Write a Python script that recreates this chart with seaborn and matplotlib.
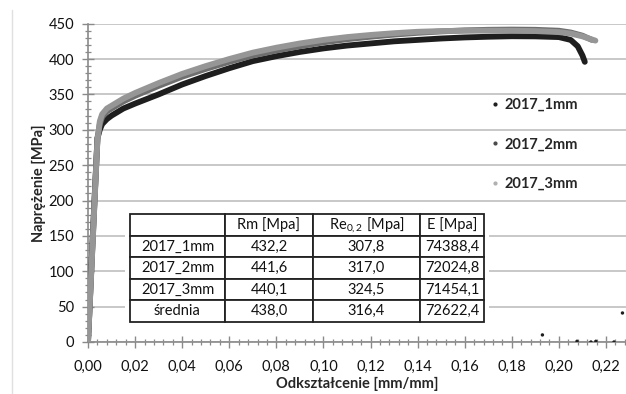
import numpy as np
import pandas as pd
import matplotlib
matplotlib.use("Agg")
import matplotlib.pyplot as plt
from matplotlib.lines import Line2D
from matplotlib.ticker import MultipleLocator, FuncFormatter
import seaborn as sns

# Stress-strain curves (strain [mm/mm], stress [MPa])
strain_1mm = [0.0, 0.002, 0.004, 0.005, 0.006, 0.008, 0.010, 0.015, 0.02, 0.03, 0.04, 0.05,
              0.06, 0.07, 0.08, 0.09, 0.10, 0.11, 0.12, 0.13, 0.14, 0.15, 0.16, 0.17, 0.18,
              0.19, 0.20, 0.205, 0.208, 0.210, 0.211]
stress_1mm = [0, 148, 288, 300, 308, 315, 320, 330, 337, 350, 364, 376,
              387, 397, 404, 410, 415, 419, 422, 425, 427, 429, 430.5, 431.5, 432.2,
              432, 431, 427, 418, 405, 396]

strain_2mm = [0.0, 0.002, 0.004, 0.005, 0.006, 0.008, 0.010, 0.015, 0.02, 0.03, 0.04, 0.05,
              0.06, 0.07, 0.08, 0.09, 0.10, 0.11, 0.12, 0.13, 0.14, 0.15, 0.16, 0.17, 0.18,
              0.19, 0.20, 0.205, 0.210, 0.214]
stress_2mm = [0, 144, 288, 308, 318, 326, 330, 340, 348, 362, 375, 386,
              396, 405, 412, 418, 423.5, 428, 431.5, 434.5, 437, 439, 440.5, 441.3, 441.6,
              441.3, 440, 437.5, 433, 427]

strain_3mm = [0.0, 0.002, 0.004, 0.005, 0.006, 0.008, 0.010, 0.015, 0.02, 0.03, 0.04, 0.05,
              0.06, 0.07, 0.08, 0.09, 0.10, 0.11, 0.12, 0.13, 0.14, 0.15, 0.16, 0.17, 0.18,
              0.19, 0.20, 0.205, 0.210, 0.2155]
stress_3mm = [0, 142, 285, 312, 322, 330, 334, 344, 352, 366, 379, 390,
              400, 409, 416, 422, 427, 431, 434, 436.5, 438.5, 439.5, 440, 440.1, 440,
              439.5, 438, 436, 432, 426]

# Stray readings recorded after fracture
tail_strain = [0.193, 0.2077, 0.2136, 0.2157, 0.2234, 0.2270]
tail_stress = [10, 1, 0, 1, 0, 41]

series_names = ["2017_1mm", "2017_2mm", "2017_3mm"]
series_colors = ["#1e1e1e", "#6e6e6e", "#969696"]
legend_colors = ["#1e1e1e", "#4a4a4a", "#b0b0b0"]

# Summary table
table_header = ["", "Rm [Mpa]", "Re$_{0,2}$ [Mpa]", "E [Mpa]"]
table_rows = ["2017_1mm", "2017_2mm", "2017_3mm", "średnia"]
rm_vals = ["432,2", "441,6", "440,1", "438,0"]
re_vals = ["307,8", "317,0", "324,5", "316,4"]
e_vals = ["74388,4", "72024,8", "71454,1", "72622,4"]

frames = []
for name, xs, ys in zip(series_names,
                        [strain_1mm, strain_2mm, strain_3mm],
                        [stress_1mm, stress_2mm, stress_3mm]):
    frames.append(pd.DataFrame({"strain": xs, "stress": ys, "seria": name}))
df = pd.concat(frames, ignore_index=True)

sns.set_style("white")
plt.rcParams["font.family"] = ["Lato", "DejaVu Sans"]
plt.rcParams["mathtext.fontset"] = "custom"
plt.rcParams["mathtext.rm"] = "Lato"
plt.rcParams["mathtext.it"] = "Lato"

fig = plt.figure(figsize=(6.26, 3.94), dpi=100)
ax = fig.add_axes([0.1406, 0.132, 0.8594, 0.808])

ax.yaxis.grid(True, color="#c4c4c4", linewidth=1.3, zorder=0)
ax.set_axisbelow(True)

sns.lineplot(data=df, x="strain", y="stress", hue="seria", hue_order=series_names,
             palette=dict(zip(series_names, series_colors)), sort=False,
             estimator=None, linewidth=4.2, legend=False, ax=ax,
             solid_capstyle="round", zorder=3)
sns.scatterplot(x=tail_strain, y=tail_stress, color="#1e1e1e", s=6,
                edgecolor="none", ax=ax, zorder=3)

ax.set_xlim(0, 0.2285)
ax.set_ylim(0, 450)
ax.xaxis.set_major_locator(MultipleLocator(0.02))
ax.xaxis.set_minor_locator(MultipleLocator(0.004))
ax.yaxis.set_major_locator(MultipleLocator(50))
ax.yaxis.set_minor_locator(MultipleLocator(10))
ax.xaxis.set_major_formatter(FuncFormatter(lambda v, p: f"{v:.2f}".replace(".", ",")))

for side in ["top", "right"]:
    ax.spines[side].set_visible(False)
for side in ["left", "bottom"]:
    ax.spines[side].set_color("#8a8a8a")
    ax.spines[side].set_linewidth(1.2)

ax.tick_params(which="both", bottom=True, left=True)
ax.tick_params(which="major", direction="inout", length=8, width=1.0, color="#8a8a8a",
               labelsize=10.5, labelcolor="#111111")
ax.tick_params(axis="x", which="major", pad=9)
ax.tick_params(axis="y", which="major", pad=6)
ax.tick_params(which="minor", direction="inout", length=5, width=0.9, color="#8a8a8a")

ax.set_xlabel("Odkształcenie [mm/mm]", fontsize=10.5, fontweight="bold", labelpad=2)
ax.set_ylabel("Naprężenie [MPa]", fontsize=10.5, fontweight="bold", labelpad=2)

handles = [Line2D([], [], linestyle="none", marker="o", markersize=2.0,
                  color=c) for c in legend_colors]
leg = ax.legend(handles, series_names, loc="upper left", bbox_to_anchor=(0.722, 0.808),
                frameon=False, labelspacing=1.75, handletextpad=0.2, handlelength=0.8,
                prop={"weight": "bold", "size": 10.5})

cell_text = [[r, a, b, c] for r, a, b, c in zip(table_rows, rm_vals, re_vals, e_vals)]
tbl = ax.table(cellText=cell_text, colLabels=table_header, cellLoc="center",
               colWidths=[95, 88, 107, 64], bbox=[0.078, 0.063, 0.658, 0.339],
               zorder=5)
tbl.auto_set_font_size(False)
for (r, c), cell in tbl.get_celld().items():
    cell.set_facecolor("white")
    cell.set_edgecolor("#222222")
    cell.set_linewidth(1.3)
    cell.get_text().set_fontsize(10.5)
    cell.get_text().set_color("#111111")

# white margin around the table
ax.add_patch(plt.Rectangle((0.068, 0.045), 0.678, 0.372, transform=ax.transAxes,
                           facecolor="white", edgecolor="none", zorder=4))

fig.add_artist(Line2D([12 / 626, 12 / 626], [0.0, 0.975], color="#e0e0e0", lw=1.0))

fig.savefig("out.png", dpi=100, facecolor="white")
